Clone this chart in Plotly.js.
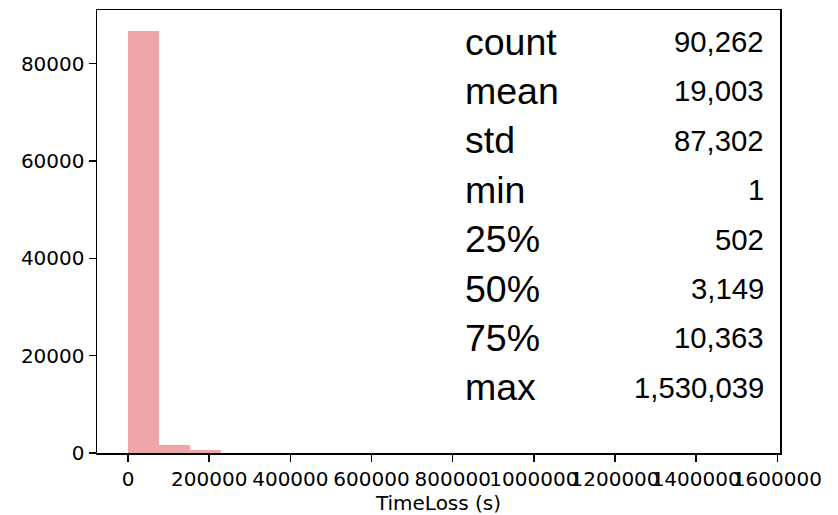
<!DOCTYPE html>
<html>
<head>
<meta charset="utf-8">
<script src="https://cdn.plot.ly/plotly-3.0.1.min.js"></script>
<style>html,body{margin:0;padding:0;background:#fff;}#chart{width:838px;height:515px;}</style>
</head>
<body>
<div id="chart"></div>
<script>
// TimeLoss histogram (20 equal bins between min and max)
var dataMin = 1;
var dataMax = 1530039;
var binCounts = [86700, 1640, 680, 90, 60, 45, 35, 28, 22, 18, 15, 12, 10, 8, 6, 5, 4, 3, 2, 2];

// describe() summary table
var statLabels = ["count", "mean", "std", "min", "25%", "50%", "75%", "max"];
var statValues = ["90,262", "19,003", "87,302", "1", "502", "3,149", "10,363", "1,530,039"];

var xTicks = [0, 200000, 400000, 600000, 800000, 1000000, 1200000, 1400000, 1600000];
var yTicks = [0, 20000, 40000, 60000, 80000];

var nBins = binCounts.length;
var binWidth = (dataMax - dataMin) / nBins;
var centers = binCounts.map(function (_, i) { return dataMin + binWidth * (i + 0.5); });

var trace = {
  type: 'bar',
  x: centers,
  y: binCounts,
  width: binCounts.map(function () { return binWidth; }),
  marker: { color: '#eda7ab', line: { width: 0 } },
  hoverinfo: 'x+y'
};

var W = 838, H = 515, mL = 97, mR = 58, mT = 10, mB = 62;
var plotH = H - mT - mB;
function py(px) { return (H - mB - px) / plotH; }

var annotations = [];
for (var i = 0; i < statLabels.length; i++) {
  var yc = py(41.5 + 49.4 * i);
  annotations.push({
    xref: 'paper', yref: 'paper',
    x: (463 - mL) / (W - mL - mR), y: yc,
    xanchor: 'left', yanchor: 'middle',
    text: statLabels[i], showarrow: false,
    font: { family: 'Liberation Sans, Arial, sans-serif', size: 37.5, color: '#000' }
  });
  annotations.push({
    xref: 'paper', yref: 'paper',
    x: (766 - mL) / (W - mL - mR), y: yc,
    xanchor: 'right', yanchor: 'middle',
    text: statValues[i], showarrow: false,
    font: { family: 'Liberation Sans, Arial, sans-serif', size: 29.3, color: '#000' }
  });
}

var xPad = 0.05 * (dataMax - dataMin);
var yMaxRange = Math.max.apply(null, binCounts) * 1.05;

var layout = {
  width: W, height: H,
  margin: { l: mL, r: mR, t: mT, b: mB, pad: 0 },
  paper_bgcolor: '#fff', plot_bgcolor: '#fff',
  showlegend: false,
  bargap: 0,
  font: { family: 'DejaVu Sans, sans-serif', size: 20, color: '#000' },
  xaxis: {
    range: [dataMin - xPad, dataMax + xPad],
    tickvals: xTicks, ticktext: xTicks.map(String),
    tickangle: 0,
    ticks: 'outside', ticklen: 7, tickwidth: 1.5, tickcolor: '#000',
    showline: true, linecolor: '#000', linewidth: 1.5, mirror: true,
    showgrid: false, zeroline: false,
    tickfont: { family: 'DejaVu Sans, sans-serif', size: 20, color: '#000' },
    title: { text: 'TimeLoss (s)', font: { family: 'DejaVu Sans, sans-serif', size: 20, color: '#000' }, standoff: 16 }
  },
  yaxis: {
    range: [0, yMaxRange],
    tickvals: yTicks, ticktext: yTicks.map(String),
    ticks: 'outside', ticklen: 7, tickwidth: 1.5, tickcolor: '#000',
    showline: true, linecolor: '#000', linewidth: 1.5, mirror: true,
    showgrid: false, zeroline: false,
    tickfont: { family: 'DejaVu Sans, sans-serif', size: 20, color: '#000' }
  },
  annotations: annotations
};

Plotly.newPlot('chart', [trace], layout, { displayModeBar: false, staticPlot: true });
</script>
</body>
</html>
